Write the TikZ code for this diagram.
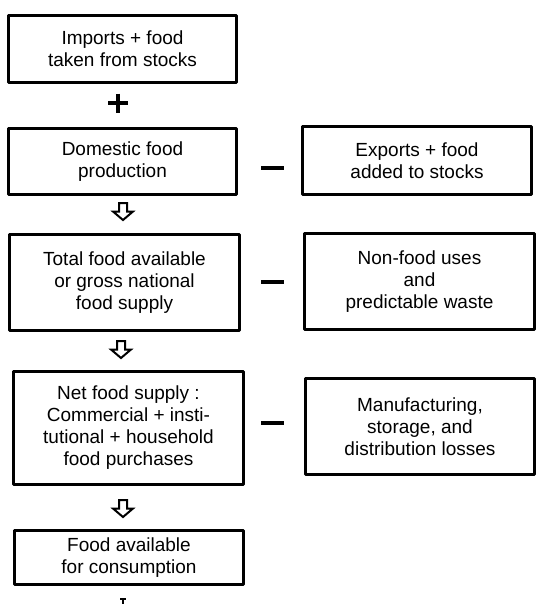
\documentclass[tikz,border=0pt]{standalone}
\usepackage{fontspec}
\setmainfont{Liberation Sans}
\tikzset{
	box/.style={draw,line width=2.8pt,align=center,inner sep=0pt,font=\fontsize{19}{22}\selectfont},
	sign/.style={line width=4.5pt},
	downarr/.pic={\draw[line width=2pt,line join=miter] (-4,-8.5)--(4,-8.5)--(4,0)--(10,0)--(0,8.5)--(-10,0)--(-4,0)--cycle;}
}
\begin{document}
\begin{tikzpicture}[x=1pt,y=-1pt,line join=round]
\useasboundingbox (0,0) rectangle (544,611);
	% left column
	\node[box,minimum width=228pt,minimum height=67pt] (imp) at (122.5,49) {Imports + food\\taken from stocks};
	\node[box,minimum width=228pt,minimum height=66pt] (dom) at (122.5,161.5) {Domestic food\\production};
	\node[box,minimum width=230pt,minimum height=96pt] (tot) at (124.5,282.5) {Total food available\\or gross national\\food supply};
	\node[box,minimum width=230pt,minimum height=113pt] (net) at (128.5,428) {Net food supply :\\Commercial + insti-\\tutional + household\\food purchases};
	\node[box,minimum width=229pt,minimum height=54pt] (cons) at (129,557.5) {Food available\\for consumption};
	% right column
	\node[box,minimum width=229pt,minimum height=68pt] (exp) at (417,160.5) {Exports + food\\added to stocks};
	\node[box,minimum width=230pt,minimum height=96pt] (nonf) at (419.5,281.5) {Non-food uses\\and\\predictable waste};
	\node[box,minimum width=229pt,minimum height=96pt] (manu) at (420,426.5) {Manufacturing,\\storage, and\\distribution losses};
	% signs
	\draw[line width=3.5pt] (108,103)--(128,103) (118,93.5)--(118,112.5);
	\draw[sign] (261,168)--(284,168);
	\draw[sign] (261,282)--(284,282);
	\draw[sign] (261,423)--(284,423);
	% arrows
	\pic at (123,211.5) {downarr};
	\pic at (121,349.5) {downarr};
	\pic at (123,508.5) {downarr};
	\draw[line width=1.2pt] (120,599)--(126,599) (123,599)--(123,604);
\end{tikzpicture}
\end{document}
